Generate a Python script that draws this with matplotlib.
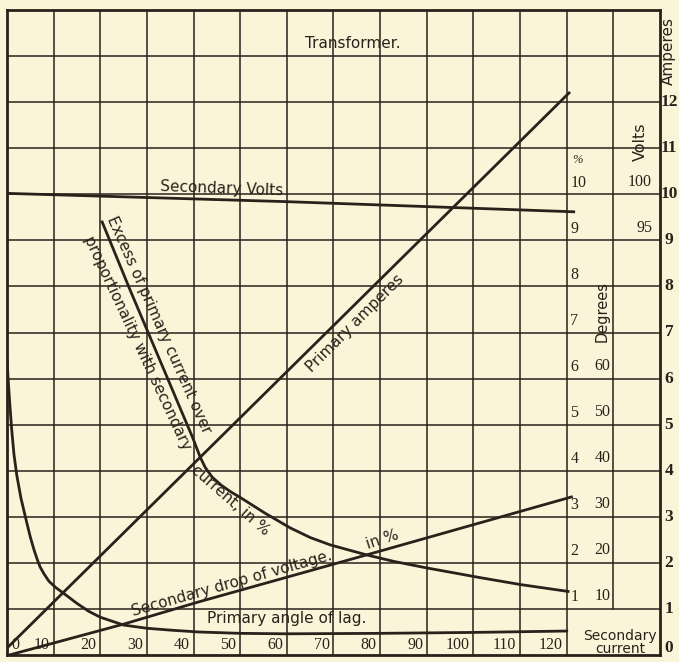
import matplotlib.pyplot as plt

# values (x = secondary current)
lag_x = [0, 0.3, 0.6, 1, 1.5, 2.1, 3, 4.2, 5, 5.8, 6.5, 7.1, 8, 9, 10.5, 12, 15, 17.5, 20, 25,
         30, 35, 41, 50, 60, 80, 100, 120]
lag_deg = [64, 59, 54.5, 49, 43.5, 39, 34, 28.9, 25.6, 22.8, 20.7, 19.1, 17.5, 16.0, 14.6,
           13.5, 11.2, 9.5, 8.2, 6.5, 5.8, 5.4, 5.0, 4.7, 4.6, 4.7, 4.9, 5.2]

excess_x = [20.4, 26.4, 33.4, 38.2, 39.8, 41.4, 42.5, 44, 46, 48, 50, 55.3, 60.7, 65, 69.3,
            77.2, 83, 90, 101.4, 110, 120.3]
excess_pct = [9.4, 7.92, 6.25, 5.1, 4.72, 4.3, 4.07, 3.86, 3.68, 3.54, 3.42, 3.08, 2.76, 2.55,
              2.39, 2.17, 2.03, 1.89, 1.68, 1.53, 1.38]

drop_x = [0.5, 25, 41, 77, 121]
drop_pct = [0, 0.67, 1.15, 2.17, 3.43]

amp_x = [0, 58.5, 120.5]
amp_a = [0.15, 6.0, 12.2]

volt_x = [0, 60, 121.5]
volt_v = [100.1, 99.2, 98.1]

x_labels = [0, 10, 20, 30, 40, 50, 60, 70, 80, 90, 100, 110, 120]
amp_labels = list(range(13))
pct_labels = list(range(1, 11))
deg_labels = [10, 20, 30, 40, 50, 60]
volt_labels = [95, 100]

paper = '#faf4d8'
ink = '#2a211b'
serif = 'Liberation Serif'
sans = 'DejaVu Sans'

fig = plt.figure(figsize=(6.79, 6.62), dpi=100, facecolor=paper)
ax = fig.add_axes([7 / 679, 7 / 662, 653 / 679, 645 / 662])
ax.set_facecolor(paper)
ax.set_xlim(0, 140)
ax.set_ylim(0, 14)
ax.set_xticks([])
ax.set_yticks([])
for s in ax.spines.values():
    s.set_color(ink)
    s.set_linewidth(2.0)

# grid
for gx in range(10, 130, 10):
    ax.axvline(gx, color=ink, lw=1.1, zorder=1)
ax.plot([130, 130], [1, 14], color=ink, lw=1.1, zorder=1)
for gy in range(1, 14):
    ax.axhline(gy, color=ink, lw=1.1, zorder=1)

# curves
lw = 2.0
ax.plot(lag_x, [d / 10 for d in lag_deg], color=ink, lw=lw, zorder=3, solid_joinstyle='round')
ax.plot(excess_x, excess_pct, color=ink, lw=lw, zorder=3, solid_joinstyle='round')
ax.plot(drop_x, drop_pct, color=ink, lw=lw, zorder=3)
ax.plot(amp_x, amp_a, color=ink, lw=lw, zorder=3)
ax.plot(volt_x, [(v - 50) / 5 for v in volt_v], color=ink, lw=lw, zorder=3)

# curve labels
kw = dict(color=ink, family=sans, zorder=4)
ax.text(74.2, 13.28, 'Transformer.', ha='center', va='center', fontsize=11, **kw)
ax.text(46, 9.97, 'Secondary Volts', ha='center', va='baseline', rotation=-2, fontsize=11, **kw)
ax.text(74.6, 7.2, 'Primary amperes', ha='center', va='center', rotation=45, fontsize=11, **kw)
ax.text(32.6, 7.16, 'Excess of primary current over', ha='center', va='center',
        rotation=-66, fontsize=11, **kw)
ax.text(27.9, 6.77, 'proportionality with secondary', ha='center', va='center',
        rotation=-65, fontsize=11, **kw)
ax.text(48, 3.36, 'current, in %', ha='center', va='center', rotation=-41, fontsize=11, **kw)
ax.text(48.2, 1.55, 'Secondary drop of voltage.', ha='center', va='center',
        rotation=15.8, fontsize=11, **kw)
ax.text(80.4, 2.5, 'in %', ha='center', va='center', rotation=18, fontsize=11, **kw)
ax.text(60, 0.8, 'Primary angle of lag.', ha='center', va='center', fontsize=11, **kw)

# bottom scale
for v in x_labels:
    if v == 0:
        ax.text(1.0, 0.05, '0', ha='left', va='bottom', fontsize=11.5, family=serif, color=ink)
    else:
        ax.text(v - 0.8, 0.05, str(v), ha='right', va='bottom', fontsize=11.5,
                family=serif, color=ink)
ax.text(131.5, 0.27, 'Secondary\ncurrent', ha='center', va='center', fontsize=10,
        linespacing=0.95, **kw)

# inner scales: per cent, degrees, volts
for p in pct_labels:
    ax.text(120.8, p + 0.08, str(p), ha='left', va='bottom', fontsize=11.5,
            family=serif, color=ink)
ax.text(121.2, 10.62, '%', ha='left', va='bottom', fontsize=9, style='italic',
        family=serif, color=ink)
for d in deg_labels:
    ax.text(129.4, d / 10 + 0.1, str(d), ha='right', va='bottom', fontsize=11.5,
            family=serif, color=ink)
ax.text(127.6, 7.45, 'Degrees', ha='center', va='center', rotation=90, fontsize=10.5, **kw)
for v in volt_labels:
    ax.text(138.3, (v - 50) / 5 + 0.1, str(v), ha='right', va='bottom', fontsize=11.5,
            family=serif, color=ink)
ax.text(135.8, 11.14, 'Volts', ha='center', va='center', rotation=90, fontsize=11.5, **kw)

# ampere scale outside right border
for a in amp_labels:
    ax.text(141.9, a if a > 0 else 0.15, str(a), ha='center', va='center', fontsize=12.5,
            fontweight='bold', family=serif, color=ink, clip_on=False)
ax.text(141.9, 13.1, 'Amperes', ha='center', va='center', rotation=90, fontsize=11,
        clip_on=False, **kw)

fig.savefig('out.png', dpi=100, facecolor=paper)
